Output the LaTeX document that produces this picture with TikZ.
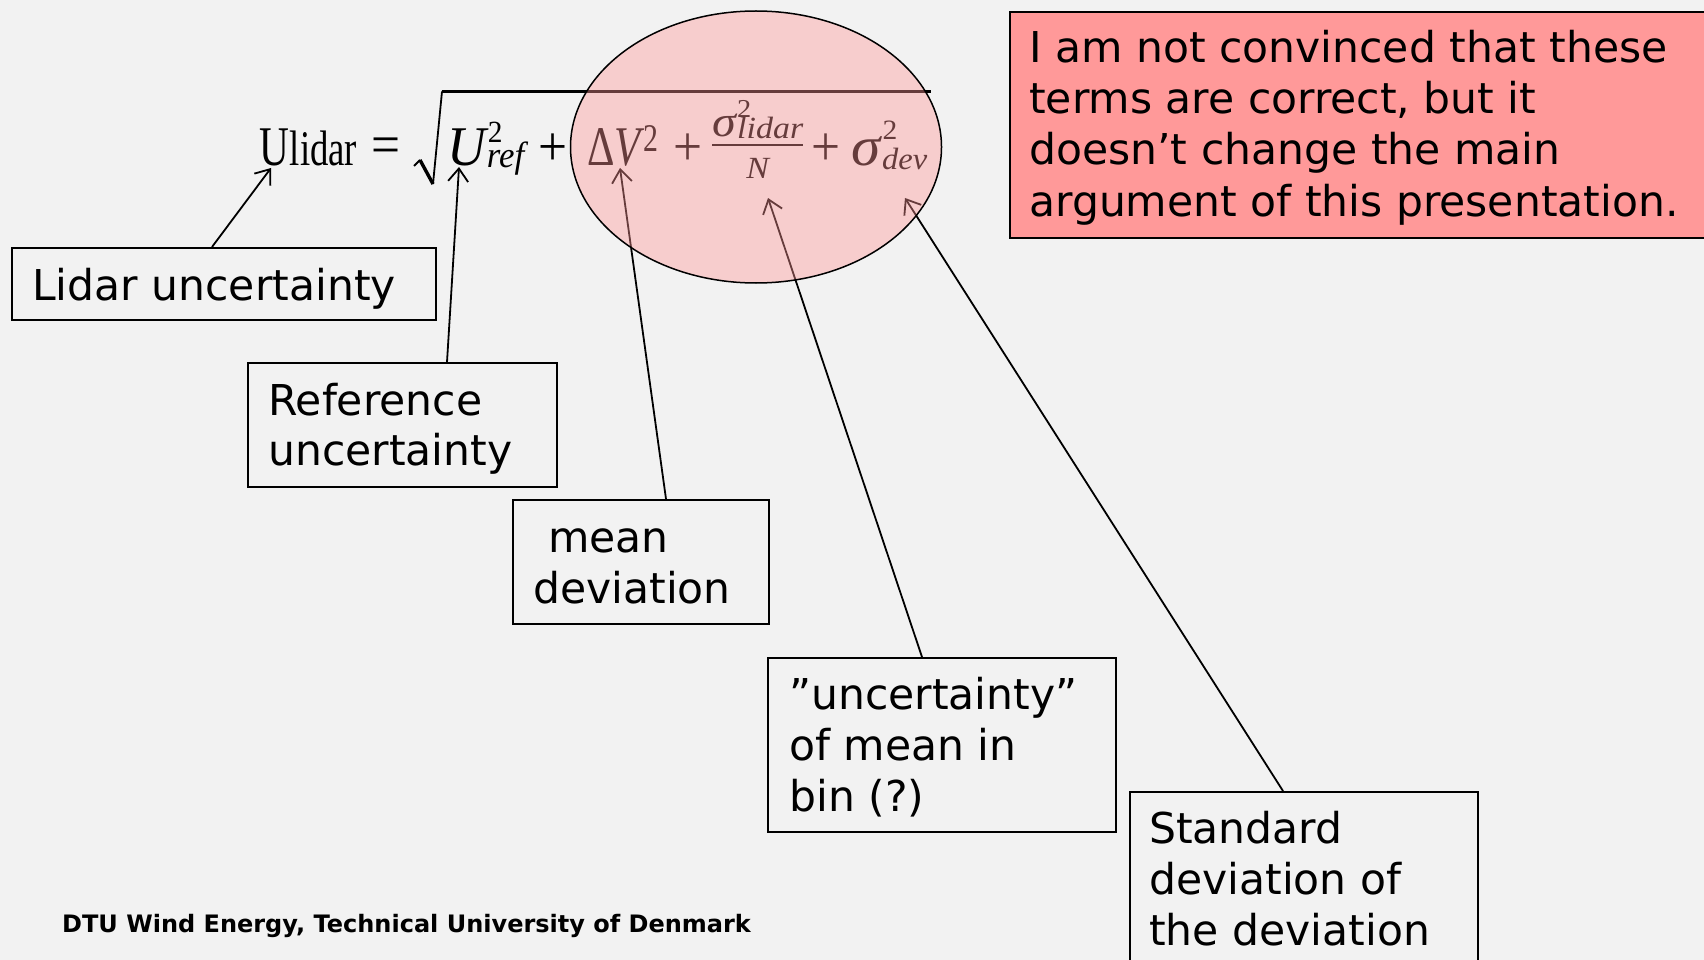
\documentclass[tikz,border=0pt]{standalone}
\usepackage[no-math]{fontspec}
\setmainfont{DejaVu Sans}
\newfontfamily\lser{Liberation Serif}
\usepackage{graphicx}
\usetikzlibrary{arrows.meta,calc,shapes.geometric}
\definecolor{bg}{HTML}{F2F2F2}
\definecolor{note}{HTML}{FF9999}
\definecolor{hl}{HTML}{FF9696}
\newcommand{\rz}[2]{\resizebox{#1pt}{5.6\height}{#2}}
\newcommand{\fsz}[1]{\fontsize{#1}{#1}\selectfont}
\begin{document}
\begin{tikzpicture}[x=1pt,y=-1pt,
  box/.style={draw=black,line width=1.6pt,rectangle,inner sep=0pt,anchor=north west},
  lbl/.style={anchor=base west,inner sep=0pt,font=\fontsize{42.5}{51}\selectfont},
  arr/.style={draw=black,line width=1.8pt,-{Straight Barb[length=13pt,width=20pt,line width=1.8pt]}},
  foot/.style={anchor=base west,inner sep=0pt,font=\fontsize{24}{28}\selectfont\bfseries},
  eq/.style={anchor=base west,inner sep=0pt,font=\lser\fsz{10}}
]
\fill[bg] (0,0) rectangle (1704,960);
\useasboundingbox (0,0) rectangle (1704,960);

% ---- formula, left-hand side
\node[eq] (eUl) at (259,166) {\rz{98}{U\kern0.2pt{\fsz{8.9}lidar}}};
\node[eq] (eeq) at (371,164) {\rz{29}{=}};
% radical sign
\coordinate (r0) at (414,166);
\coordinate (r1) at (420,160);
\coordinate (r2) at (433,184);
\coordinate (r3) at (442,91.5);
\coordinate (r4) at (931,91.5);
\draw[line width=2pt,line join=miter] (r0) -- (r1);
\draw[line width=3.4pt,line cap=butt] (r1) -- (r2);
\draw[line width=1.8pt] (r2) -- (r3);
\draw[line width=2.6pt] ($(r3)+(-0.5,0)$) -- (r4);
% ---- radicand
\node[eq] (eUr) at (447,166)
  {\rz{77}{\itshape U\rlap{\kern0.4pt\raisebox{4.2pt}{\upshape\fsz{5.5}2}}\kern0.2pt\raisebox{-0.2pt}{\fsz{6.5}ref}}};
\node[eq] (ep1) at (538,166) {\rz{29}{+}};
\node[eq] (edV) at (587,166)
  {\rz{71}{Δ\itshape V\kern0.6pt\raisebox{2.6pt}{\upshape\fsz{7}2}}};
\node[eq] (ep2) at (673,166) {\rz{29}{+}};
\node[eq] (efrac) at (712,166)
  {\rz{91}{\nulldelimiterspace=0pt\raisebox{1.25pt}{$\frac{\hbox{\lser\itshape\fsz{7.8}σ\rlap{\kern0.2pt\raisebox{3.5pt}{\upshape\fsz{4.6}2}}\kern0.2pt\raisebox{-0.2pt}{\fsz{5.5}lidar}}}{\hbox{\lser\itshape\fsz{5.5}N}}$}}};
\node[eq] (ep3) at (811,166) {\rz{29}{+}};
\node[eq] (esd) at (851,166)
  {\rz{76}{\itshape σ\rlap{\kern0.4pt\raisebox{4.8pt}{\upshape\fsz{5}2}}\kern0.3pt\raisebox{-0.6pt}{\fsz{5.5}dev}}};

\coordinate (tU) at (271,168);
\coordinate (tref) at (459,167);
\coordinate (tdV) at (620,168);
\coordinate (tfrac) at (768,198);
\coordinate (tdev) at (905,198);

% boxes
\node[box,minimum width=424pt,minimum height=72pt] (lidbox) at (11,247) {};
\node[box,minimum width=309pt,minimum height=124pt] (refbox) at (247,362) {};
\node[box,minimum width=256pt,minimum height=124pt] (meanbox) at (512,499) {};
\node[box,minimum width=348pt,minimum height=174pt] (uncbox) at (767,657) {};
\node[box,minimum width=348pt,minimum height=230pt] (stdbox) at (1129,791) {};

\node[lbl] (lidt) at (32,300) {Lidar uncertainty};
\node[lbl] (reft1) at (268,415) {Reference};
\node[lbl] (reft2) at (268,465) {uncertainty};
\node[lbl] (meant1) at (548,552) {mean};
\node[lbl] (meant2) at (533,603) {deviation};
\node[lbl] (unct1) at (789,709) {”uncertainty”};
\node[lbl] (unct2) at (789,760) {of mean in};
\node[lbl] (unct3) at (789,811) {bin (?)};
\node[lbl] (stdt1) at (1149,843) {Standard};
\node[lbl] (stdt2) at (1149,894) {deviation of};
\node[lbl] (stdt3) at (1149,945) {the deviation};

% connectors
\draw[arr] ($(lidbox.north west)+(201,0)$) -- (tU);
\draw[arr] ($(refbox.north west)+(200,0)$) -- (tref);
\draw[arr] ($(meanbox.north west)+(154,0)$) -- (tdV);
\draw[arr] ($(uncbox.north west)+(155,0)$) -- (tfrac);
\draw[arr] ($(stdbox.north west)+(154,0)$) -- (tdev);

% highlight ellipse
\node[ellipse,draw=black,line width=1.5pt,fill=hl,fill opacity=0.4,draw opacity=1,
      minimum width=371pt,minimum height=272pt,inner sep=0pt] (hilite) at (756,147) {};

% note box
\node[box,fill=note,minimum width=720pt,minimum height=226pt] (notebox) at (1009,11) {};
\node[lbl] (n1) at (1029,63) {I am not convinced that these};
\node[lbl] (n2) at (1029,114) {terms are correct, but it};
\node[lbl] (n3) at (1029,165) {doesn’t change the main};
\node[lbl] (n4) at (1029,216) {argument of this presentation.};

% footer
\node[foot] (footer) at (62,932) {DTU Wind Energy, Technical University of Denmark};
\end{tikzpicture}
\end{document}
